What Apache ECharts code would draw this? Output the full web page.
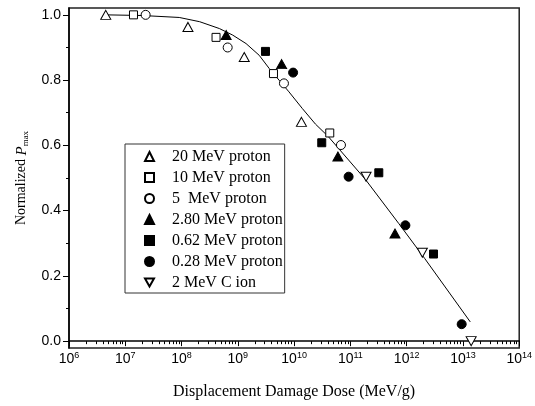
<!DOCTYPE html>
<html>
<head>
<meta charset="utf-8">
<title>Pmax vs displacement damage dose</title>
<style>
  html, body { margin: 0; padding: 0; background: #fff; }
  #chart { width: 535px; height: 406px; }
</style>
</head>
<body>
<div id="chart"></div>
<script src="https://cdn.jsdelivr.net/npm/echarts@6/dist/echarts.min.js"></script>
<script>
// data (dose in MeV/g, normalized Pmax)
var p20Dose = [4.5e6, 1.3e8, 1.3e9, 1.35e10];
var p20Val = [1.0, 0.963, 0.871, 0.672];
var p10Dose = [1.4e7, 4.1e8, 4.3e9, 4.3e10];
var p10Val = [1.0, 0.931, 0.820, 0.638];
var p5Dose = [2.3e7, 6.6e8, 6.6e9, 6.8e10];
var p5Val = [1.0, 0.900, 0.790, 0.601];
var p280Dose = [6.2e8, 6.0e9, 6.0e10, 6.2e11];
var p280Val = [0.938, 0.849, 0.566, 0.330];
var p062Dose = [3.1e9, 3.1e10, 3.2e11, 3.0e12];
var p062Val = [0.888, 0.608, 0.516, 0.267];
var p028Dose = [9.6e9, 9.3e10, 9.5e11, 9.5e12];
var p028Val = [0.823, 0.504, 0.355, 0.052];
var cDose = [1.9e11, 1.9e12, 1.4e13];
var cVal = [0.504, 0.271, 0.0];

// fitted curve
var fitDose = [4.5e6, 2e7, 9.1e7, 2.1e8, 4.7e8, 8.1e8, 1.4e9, 2.4e9, 3.6e9, 5.4e9, 8.1e9, 1.4e10, 2.4e10, 4e10, 1.86e11, 7.2e11, 2.1e12, 1.35e13];
var fitVal = [1.0, 0.998, 0.992, 0.979, 0.958, 0.938, 0.912, 0.876, 0.836, 0.800, 0.764, 0.713, 0.665, 0.628, 0.495, 0.361, 0.253, 0.059];

var xMajor = [1e6, 1e7, 1e8, 1e9, 1e10, 1e11, 1e12, 1e13, 1e14];
var yMajor = [0, 0.2, 0.4, 0.6, 0.8, 1.0];
var yMinor = [0.1, 0.3, 0.5, 0.7, 0.9];

var names = ['20 MeV proton', '10 MeV proton', '5  MeV proton', '2.80 MeV proton',
  '0.62 MeV proton', '0.28 MeV proton', '2 MeV C ion'];

var xMinor = [];
for (var k = 6; k < 14; k++) {
  for (var m = 2; m <= 9; m++) xMinor.push(m * Math.pow(10, k));
}

function zip(a, b) {
  return a.map(function (v, i) { return [v, b[i]]; });
}

var downTri = 'path://M0,0 L10,0 L5,9 Z';
var openStyle = { color: '#fff', borderColor: '#000', borderWidth: 1, opacity: 1 };
var fillStyle = { color: '#000', borderColor: '#000', borderWidth: 1, opacity: 1 };

function scatter(name, dose, val, symbol, size, style) {
  return {
    name: name,
    type: 'scatter',
    data: zip(dose, val),
    symbol: symbol,
    symbolSize: size,
    itemStyle: style,
    z: 3
  };
}

var serif = 'Liberation Serif';
var sans = 'Liberation Sans';

var chart = echarts.init(document.getElementById('chart'));
chart.setOption({
  animation: false,
  backgroundColor: '#fff',
  grid: {
    left: 69, right: 14, top: 8, bottom: 58,
    show: true, borderColor: '#222', borderWidth: 1.5, backgroundColor: 'transparent'
  },
  legend: {
    data: names,
    orient: 'vertical',
    left: 125, top: 144,
    padding: [2, 2, 0, 19],
    itemGap: 0,
    itemWidth: 9, itemHeight: 9,
    borderColor: '#333', borderWidth: 1,
    textStyle: {
      fontFamily: serif, fontSize: 16, color: '#000',
      lineHeight: 21, padding: [0, 0, 0, 13]
    }
  },
  xAxis: [{
    type: 'log', logBase: 10, min: 1e6, max: 1e14,
    name: 'Displacement Damage Dose (MeV/g)',
    nameLocation: 'middle', nameGap: 36,
    nameTextStyle: { fontFamily: serif, fontSize: 16, color: '#000' },
    axisLine: { lineStyle: { color: '#000', width: 1.5 } },
    axisTick: { customValues: xMajor, length: 5, lineStyle: { color: '#000' } },
    axisLabel: {
      customValues: xMajor, margin: 3,
      formatter: function (v) {
        return '{b|10}{s|' + Math.round(Math.log10(v)) + '}';
      },
      rich: {
        b: { fontFamily: sans, fontSize: 14, color: '#000', lineHeight: 17 },
        s: { fontFamily: sans, fontSize: 9, color: '#000', lineHeight: 9, verticalAlign: 'top' }
      }
    },
    splitLine: { show: false }
  }, {
    type: 'log', logBase: 10, min: 1e6, max: 1e14, position: 'bottom',
    axisLine: { show: false },
    axisTick: { customValues: xMinor, length: 3, lineStyle: { color: '#000' } },
    axisLabel: { show: false },
    splitLine: { show: false }
  }],
  yAxis: [{
    type: 'value', min: -0.021, max: 1.021,
    name: '{n|Normalized }{p|P}{s|max}',
    nameLocation: 'middle', nameGap: 37,
    nameTextStyle: {
      rich: {
        n: { fontFamily: serif, fontSize: 14, color: '#000', lineHeight: 18 },
        p: { fontFamily: serif, fontSize: 15, fontStyle: 'italic', color: '#000', lineHeight: 18 },
        s: { fontFamily: serif, fontSize: 9, color: '#000', lineHeight: 9, verticalAlign: 'bottom' }
      }
    },
    axisLine: { show: true, lineStyle: { color: '#000', width: 1.5 } },
    axisTick: { show: true, customValues: yMajor, length: 6, lineStyle: { color: '#000' } },
    axisLabel: {
      customValues: yMajor, margin: 8,
      fontFamily: sans, fontSize: 14, color: '#000',
      formatter: function (v) { return v.toFixed(1); }
    },
    splitLine: { show: false }
  }, {
    type: 'value', min: -0.021, max: 1.021, position: 'left',
    axisLine: { show: false },
    axisTick: { show: true, customValues: yMinor, length: 3, lineStyle: { color: '#000' } },
    axisLabel: { show: false },
    splitLine: { show: false }
  }],
  series: [
    scatter(names[0], p20Dose, p20Val, 'triangle', [10, 9], openStyle),
    scatter(names[1], p10Dose, p10Val, 'rect', 8, openStyle),
    scatter(names[2], p5Dose, p5Val, 'circle', 9, openStyle),
    scatter(names[3], p280Dose, p280Val, 'triangle', [10, 9], fillStyle),
    scatter(names[4], p062Dose, p062Val, 'rect', 8, fillStyle),
    scatter(names[5], p028Dose, p028Val, 'circle', 9, fillStyle),
    scatter(names[6], cDose, cVal, downTri, [10, 9], openStyle),
    {
      name: 'fit',
      type: 'line',
      data: zip(fitDose, fitVal),
      smooth: false,
      showSymbol: false,
      symbol: 'none',
      lineStyle: { color: '#000', width: 1 },
      z: 2
    }
  ]
});
</script>
</body>
</html>
